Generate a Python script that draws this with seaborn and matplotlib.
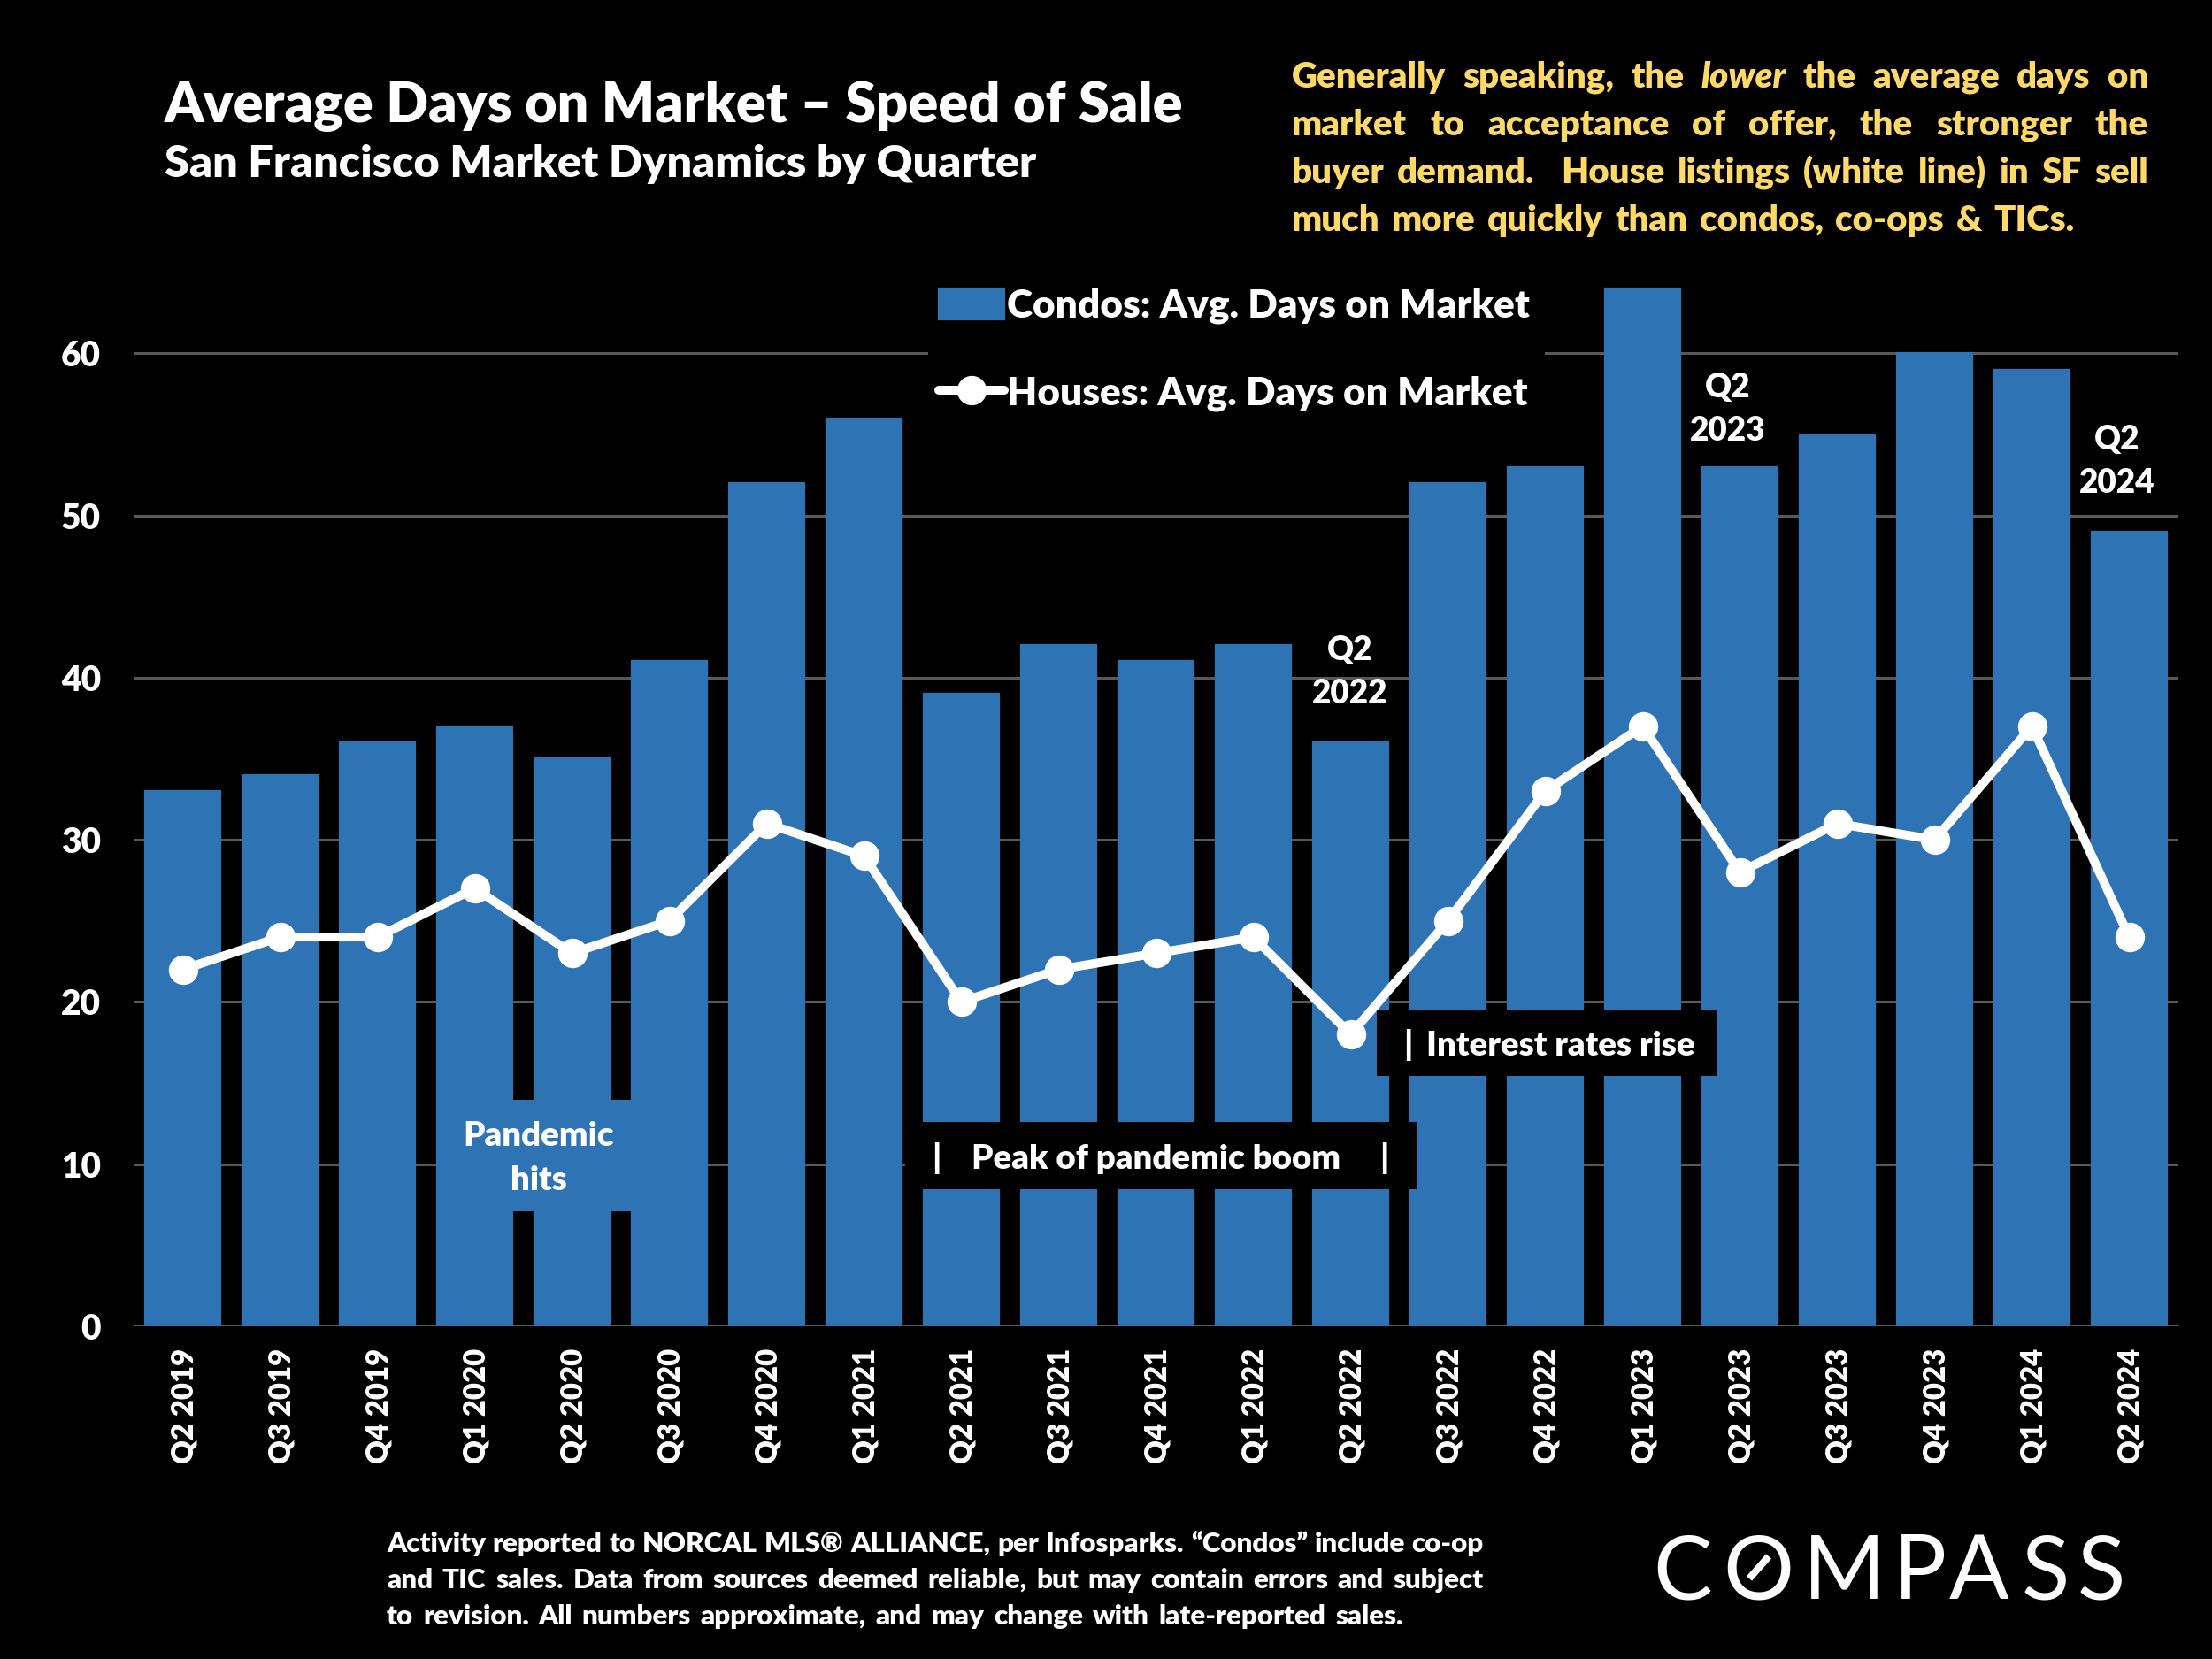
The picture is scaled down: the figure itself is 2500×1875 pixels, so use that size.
import pandas as pd
import seaborn as sns
import matplotlib
matplotlib.use("Agg")
import matplotlib.pyplot as plt
from matplotlib.patches import Rectangle
from matplotlib.lines import Line2D
from matplotlib.transforms import Affine2D, ScaledTranslation

quarters = ["Q2 2019","Q3 2019","Q4 2019","Q1 2020","Q2 2020","Q3 2020","Q4 2020","Q1 2021",
            "Q2 2021","Q3 2021","Q4 2021","Q1 2022","Q2 2022","Q3 2022","Q4 2022","Q1 2023",
            "Q2 2023","Q3 2023","Q4 2023","Q1 2024","Q2 2024"]
condos = [33,34,36,37,35,41,52,56,39,42,41,42,36,52,53,64,53,55,60,59,49]
houses = [22,24,24,27,23,25,31,29,20,22,23,24,18,25,33,37,28,31,30,37,24]
y_ticks = [0,10,20,30,40,50,60]

BLUE = "#2E74B5"
GOLD = "#FFD966"
W, H = 2500, 1875

sns.set_theme(style="white")
plt.rcParams["font.family"] = ["Lato", "DejaVu Sans"]
plt.rcParams["font.weight"] = "heavy"

fig = plt.figure(figsize=(12.5, 9.375), dpi=200, facecolor="black")
px = Affine2D().scale(1, -1).translate(0, H)

X0, X1, Y0, UNIT, YMAX = 151.5, 2461.5, 1499.0, 18.33, 65
ytop = Y0 - YMAX * UNIT
ax = fig.add_axes([X0 / W, 1 - Y0 / H, (X1 - X0) / W, (Y0 - ytop) / H], facecolor="black")

df = pd.DataFrame({"quarter": quarters, "condos": condos, "houses": houses})
sns.barplot(data=df, x="quarter", y="condos", color=BLUE, saturation=1, width=0.775,
            ax=ax, label="Condos: Avg. Days on Market", zorder=2,
            edgecolor=BLUE, linewidth=0.8)
sns.lineplot(data=df, x="quarter", y="houses", color="white", linewidth=3.6, marker="o",
             markersize=12, markeredgewidth=0, sort=False, errorbar=None, ax=ax,
             label="Houses: Avg. Days on Market", zorder=3)

ax.set_xlim(-0.5, len(quarters) - 0.5)
ax.set_ylim(0, YMAX)
ax.set_yticks(y_ticks)
ax.set_xlabel("")
ax.set_ylabel("")
ax.grid(axis="y", color="#595959", linewidth=1.1)
ax.grid(axis="x", visible=False)
ax.set_axisbelow(True)
for s in ax.spines.values():
    s.set_visible(False)
ax.tick_params(axis="y", length=0, labelsize=14, labelcolor="white", pad=13.5)
ax.tick_params(axis="x", length=0, labelsize=11.9, labelcolor="white", labelrotation=90, pad=8.8)
shift = ScaledTranslation(2.0 / 200, 0, fig.dpi_scale_trans)
for lab in ax.get_xticklabels():
    lab.set_transform(lab.get_transform() + shift)

# Black panel behind the legend interrupts the 60 gridline
ax.add_patch(Rectangle((1049, 300), 697, 190, transform=px, facecolor="black",
                       edgecolor="none", zorder=1, clip_on=False))

handles, labels = ax.get_legend_handles_labels()
order = [labels.index("Condos: Avg. Days on Market"), labels.index("Houses: Avg. Days on Market")]
leg = ax.legend([handles[i] for i in order], [labels[i] for i in order],
                loc="upper left", bbox_to_anchor=(1041 / W, 1 - 306 / H),
                bbox_transform=fig.transFigure, borderaxespad=0, borderpad=0.45,
                fontsize=15.9, labelcolor="white", frameon=False,
                handlelength=1.68, handletextpad=0.06,
                labelspacing=1.32, numpoints=1, handleheight=0.85)


def T(x, y, s, **kw):
    kw.setdefault("color", "white")
    kw.setdefault("ha", "left")
    kw.setdefault("va", "baseline")
    return fig.text(x, y, s, transform=px, zorder=10, **kw)


def box(x0, y0, x1, y1, color="black"):
    fig.add_artist(Rectangle((x0, y0), x1 - x0, y1 - y0, transform=px,
                             facecolor=color, edgecolor="none", zorder=5))


renderer = fig.canvas.get_renderer()


def spaced(line, left, y, right=None, unit=None, **kw):
    """Place (word, gap weight) pairs between left and right, or with a fixed gap unit."""
    arts = [T(left, y, w, style="italic" if w == "lower" else "normal", **kw) for w, _ in line]
    widths = [t.get_window_extent(renderer).width for t in arts]
    if unit is None:
        unit = (right - left - sum(widths)) / sum(g for _, g in line)
    x = left
    for t, wd, (_, g) in zip(arts, widths, line):
        t.set_x(x)
        x += wd + unit * g


def words(s):
    parts = s.split()
    return [(p, 1) for p in parts[:-1]] + [(parts[-1], 0)]


# Titles
T(186, 138, "Average Days on Market \u2013 Speed of Sale", fontsize=22.66)
T(186, 200, "San Francisco Market Dynamics by Quarter", fontsize=18.15)

# Justified commentary
lines = [
    words("Generally speaking, the lower the average days on"),
    words("market to acceptance of offer, the stronger the"),
    [("buyer", 1), ("demand.", 2), ("House", 1), ("listings", 1), ("(white", 1), ("line)", 1), ("in", 1), ("SF", 1), ("sell", 0)],
    words("much more quickly than condos, co-ops & TICs."),
]
baselines = [99, 153, 207, 261]
JL, JR = 1460, 2428
JSIZE = 14.5
for i, line in enumerate(lines):
    if i == 3:
        spaced(line, JL, baselines[i], unit=13.4, color=GOLD, fontsize=JSIZE)
    else:
        spaced(line, JL, baselines[i], right=JR, color=GOLD, fontsize=JSIZE)

# Annotation boxes
box(580, 1243, 714, 1369, BLUE)
box(1023, 1268, 1601, 1344)
box(1556, 1141, 1940, 1216)

AN = 13.8
for cx, ys, (a, b), fs in [(1526, (746, 795), ("Q2", "2022"), 13.3),
                           (1953, (449, 498), ("Q2", "2023"), 13.3),
                           (2393, (508, 557), ("Q2", "2024"), 13.3),
                           (609, (1295, 1345), ("Pandemic", "hits"), AN)]:
    T(cx, ys[0], a, ha="center", fontsize=fs)
    T(cx, ys[1], b, ha="center", fontsize=fs)
T(1058, 1321, "|", ha="center", fontsize=AN)
T(1307, 1321, "Peak of pandemic boom", ha="center", fontsize=AN)
T(1564, 1321, "|", ha="center", fontsize=AN)
T(1591, 1193, "|", ha="center", fontsize=AN)
T(1612, 1193, "Interest rates rise", fontsize=AN)

# Footnote
foot = ["Activity reported to NORCAL MLS\u00ae ALLIANCE, per Infosparks. \u201cCondos\u201d include co-op",
        "and TIC sales. Data from sources deemed reliable, but may contain errors and subject",
        "to revision. All numbers approximate, and may change with late-reported sales."]
for y, s, r in zip([1754, 1795, 1836], foot, [1677, 1677, 1586]):
    spaced(words(s), 437, y, right=r, fontsize=11.3)

# Logo as text
for x, ch in zip([1868, 1947, 2038, 2140, 2203, 2285, 2348], "COMPASS"):
    T(x, 1807, ch, fontsize=36, fontweight="normal")
fig.add_artist(Line2D([1977, 1999], [1784, 1759], transform=px, color="white",
                      linewidth=2.9, solid_capstyle="butt", zorder=10))

fig.savefig("out.png", dpi=200, facecolor="black")
